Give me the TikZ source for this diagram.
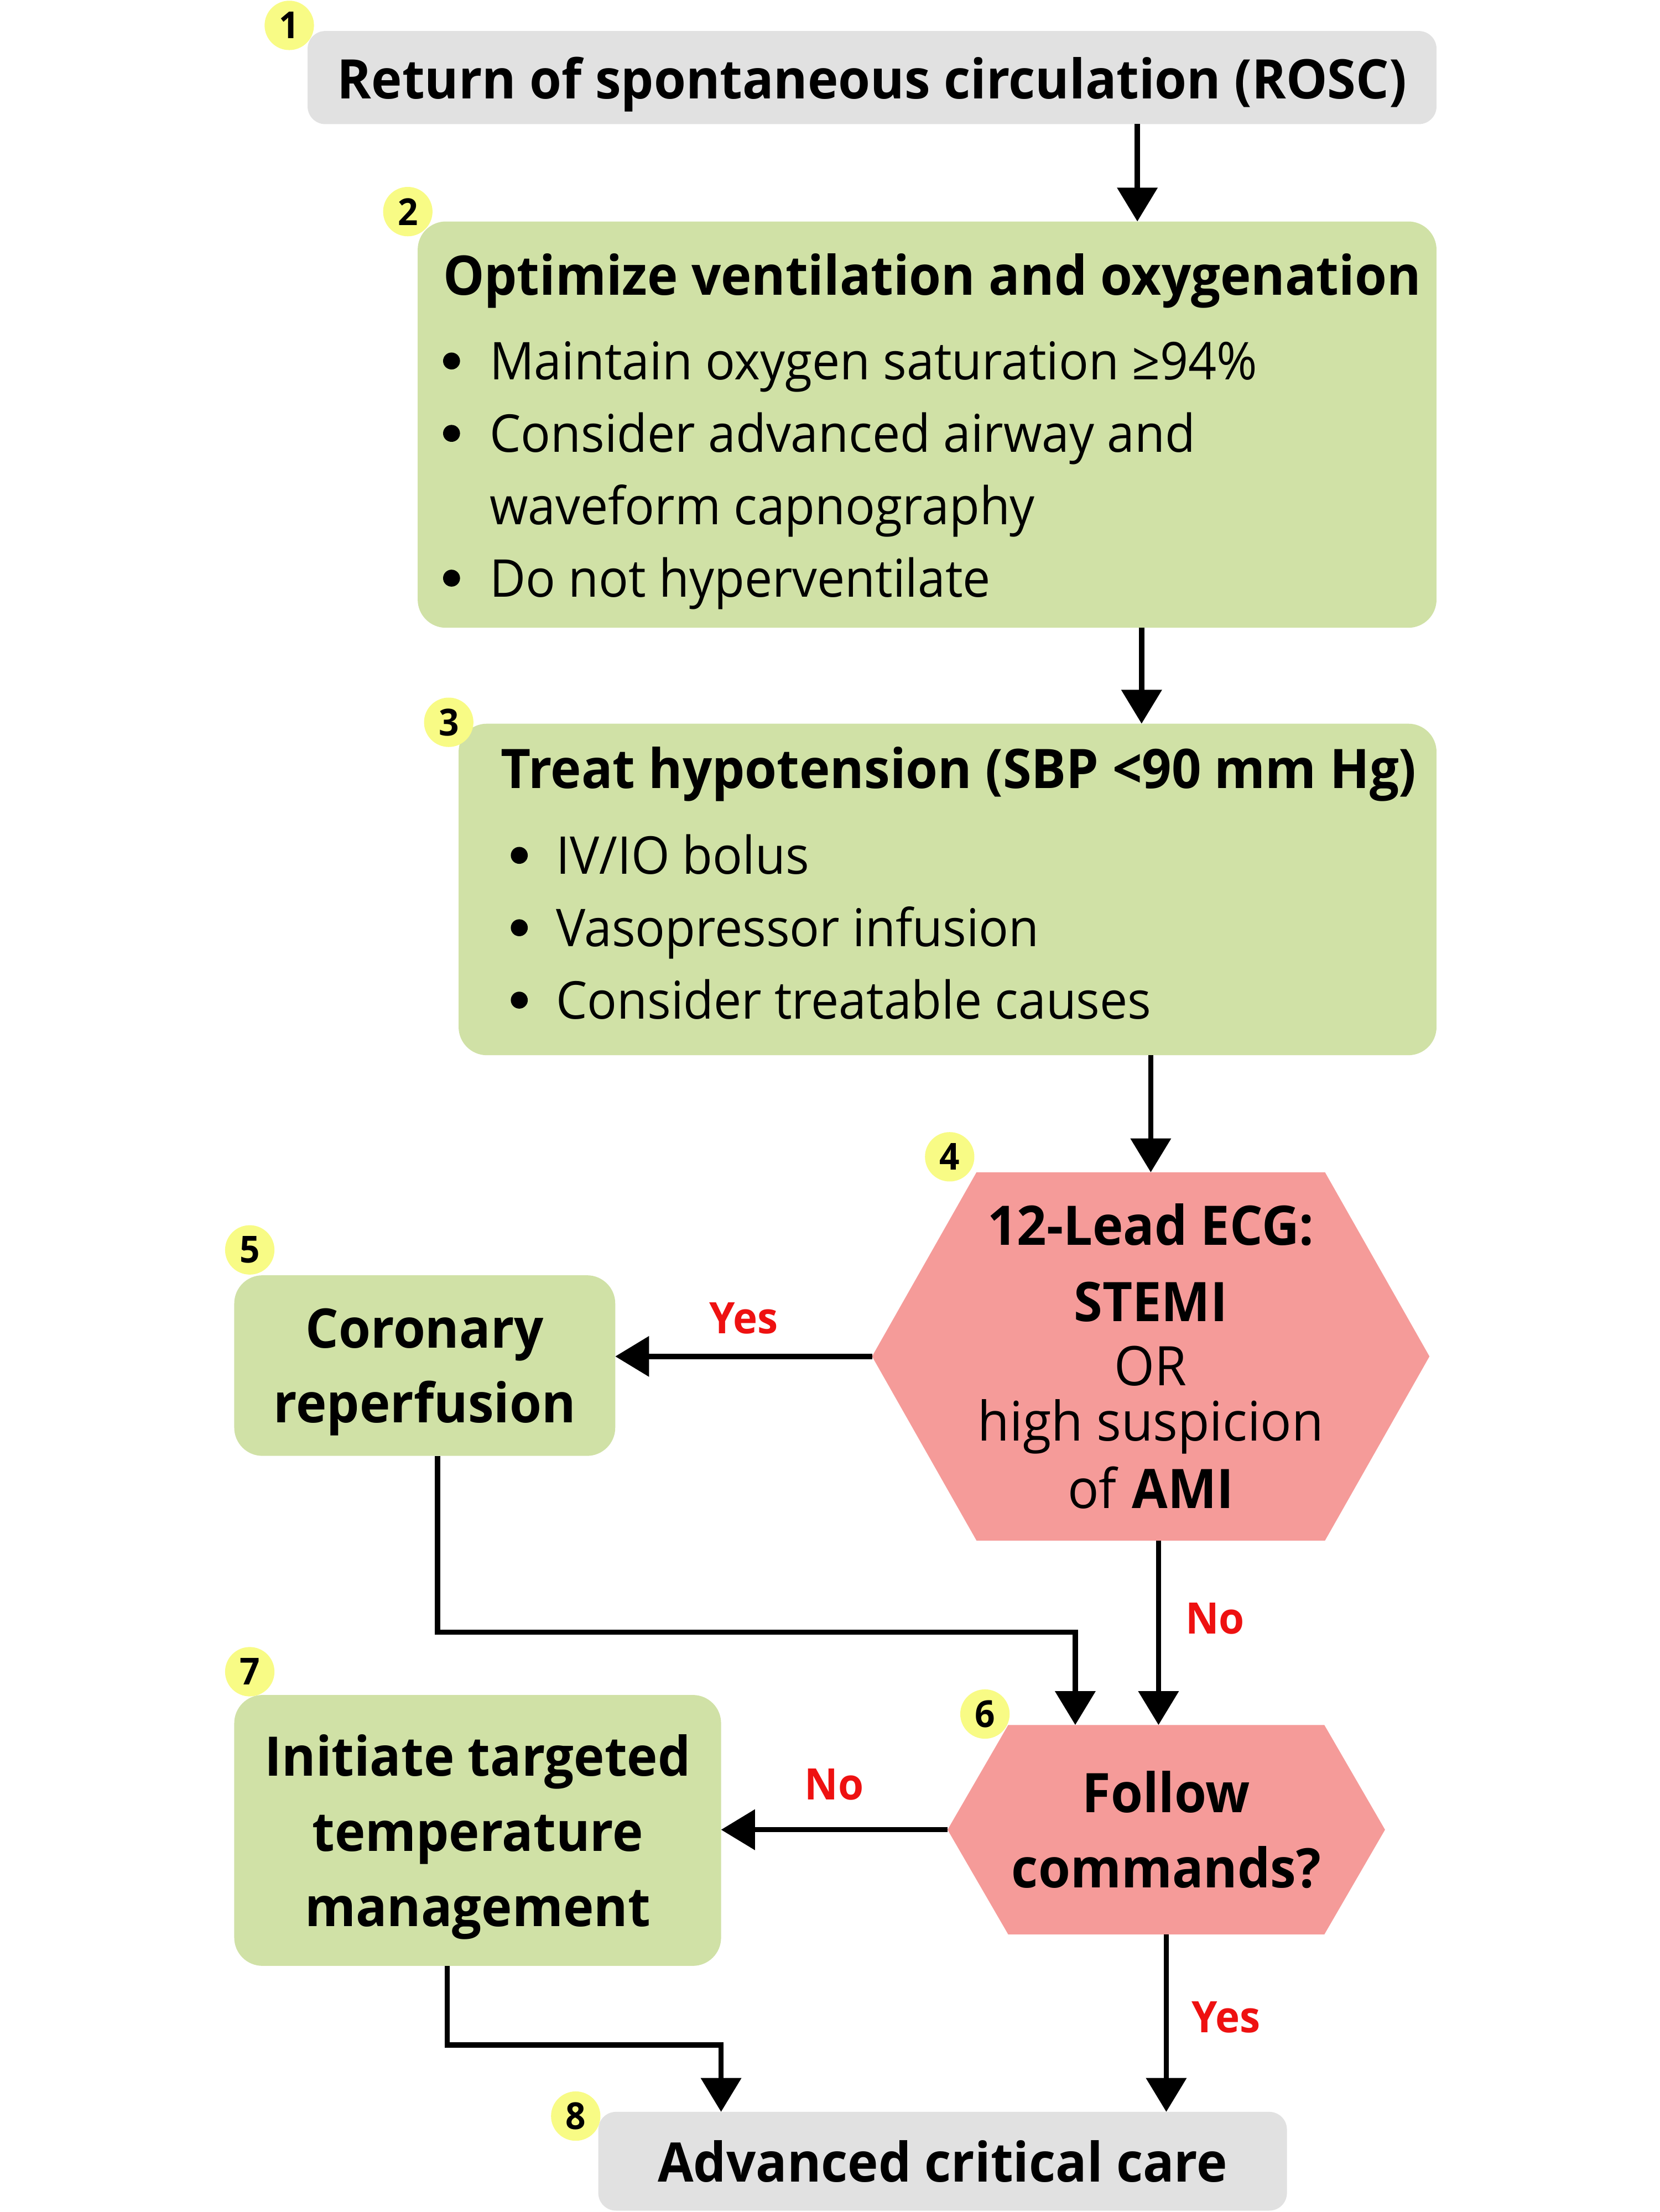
\documentclass[tikz,border=0pt]{standalone}
\usepackage{fontspec}
\setmainfont{Open Sans}[FakeStretch=0.95]
\usetikzlibrary{arrows.meta,positioning,calc}
\definecolor{boxgray}{HTML}{E1E1E1}
\definecolor{boxgreen}{HTML}{D0E1A6}
\definecolor{hexpink}{HTML}{F59B99}
\definecolor{badgeyellow}{HTML}{F8FB85}
\definecolor{labelred}{HTML}{EE1111}
\newcommand{\listdot}[1]{\makebox[#1][l]{\tikz[baseline=0pt]\fill (1.2mm,7.6pt) circle[radius=1.2mm];}}
\newcommand{\headfont}{\bfseries\fontsize{22}{29.2}\selectfont}
\begin{document}
\begin{tikzpicture}[x=0.2mm,y=-0.2mm,>={Triangle[length=4.8mm,width=5.6mm]},line width=0.75mm]
    \tikzstyle{every node}=[outer sep=0pt]
    \tikzstyle{grayBox}=[rectangle, fill=boxgray, rounded corners=2.5mm, align=center, text depth=0pt, font=\bfseries\fontsize{22}{30}\selectfont]
    \tikzstyle{greenBox}=[rectangle, fill=boxgreen, rounded corners=4mm, align=center, text depth=0pt, font=\bfseries\fontsize{22}{30}\selectfont]
    \tikzstyle{listText}=[anchor=west, inner sep=0pt, align=left, font=\fontsize{21}{29.2}\selectfont]
    \tikzstyle{badge}=[circle, fill=badgeyellow, minimum size=7mm, inner sep=0pt, font=\bfseries\fontsize{15}{15}\selectfont]
    \tikzstyle{answer}=[text=labelred, inner sep=0pt, font=\bfseries\fontsize{17.5}{17.5}\selectfont]
    \tikzset{hexBox/.style={rectangle, fill=white, inner sep=0pt, align=center,
      path picture={\fill[hexpink] (path picture bounding box.west)
        -- ([xshift=#1]path picture bounding box.north west)
        -- ([xshift=-#1]path picture bounding box.north east)
        -- (path picture bounding box.east)
        -- ([xshift=-#1]path picture bounding box.south east)
        -- ([xshift=#1]path picture bounding box.south west) -- cycle;}}}
    \useasboundingbox (0,0) rectangle (1176,1568);

    % boxes
    \node[grayBox, minimum width=160mm, minimum height=13.2mm] (rosc) at (618,55) {Return of spontaneous circulation (ROSC)};
    \node[greenBox, minimum width=144.4mm, minimum height=57.6mm] (vent) at (657,301) {};
    \node[listText] (ventList) at ([xshift=3.6mm,yshift=-1mm]vent.west) {{\headfont Optimize ventilation and oxygenation}\\[4.9pt]
      \listdot{6.6mm}Maintain oxygen saturation ≥94\%\\
      \listdot{6.6mm}Consider advanced airway and\\
      \hspace*{6.6mm}waveform capnography\\
      \listdot{6.6mm}Do not hyperventilate};
    \node[greenBox, minimum width=138.6mm, minimum height=47mm] (hypo) at (671.5,630.5) {};
    \node[listText] (hypoList) at ([xshift=6mm,yshift=0.9mm]hypo.west) {{\headfont Treat hypotension (SBP <90 mm Hg)}\\[5.5pt]
      \hspace*{1.4mm}\listdot{6.4mm}IV/IO bolus\\
      \hspace*{1.4mm}\listdot{6.4mm}Vasopressor infusion\\
      \hspace*{1.4mm}\listdot{6.4mm}Consider treatable causes};
    \node[hexBox=14.8mm, minimum width=79mm, minimum height=52.2mm, font=\fontsize{22}{26}\selectfont] (ecg) at (815.5,961.5)
      {\textbf{12-Lead ECG:}\\[4.6pt] \textbf{STEMI}\\ OR\\[-3.8pt] high suspicion\\[1.3pt] of \textbf{AMI}};
    \node[greenBox, minimum width=54mm, minimum height=25.6mm] (reperf) at (301,968) {Coronary\\reperfusion};
    \node[hexBox=8.6mm, minimum width=62mm, minimum height=29.7mm, font=\bfseries\fontsize{22}{30.5}\selectfont] (follow) at (826.5,1297) {Follow\\commands?};
    \node[greenBox, minimum width=69mm, minimum height=38.4mm, font=\bfseries\fontsize{22}{30.4}\selectfont] (ttm) at (338.5,1297.5) {Initiate targeted\\temperature\\management};
    \node[grayBox, minimum width=97.6mm, minimum height=14mm] (care) at (668,1532) {Advanced critical care};

    % step numbers
    \node[badge] (badgeA) at (205,18) {1};
    \node[badge] (badgeB) at (289,150) {2};
    \node[badge] (badgeC) at (318,512) {3};
    \node[badge] (badgeD) at (673,820) {4};
    \node[badge] (badgeE) at (177,886) {5};
    \node[badge] (badgeF) at (698,1215) {6};
    \node[badge] (badgeG) at (177,1185) {7};
    \node[badge] (badgeH) at (408,1500) {8};

    % arrows
    \draw[->] ([xshift=29.8mm]vent.north |- rosc.south) -- ([xshift=29.8mm]vent.north);
    \draw[->] ([xshift=27.5mm]hypo.north |- vent.south) -- ([xshift=27.5mm]hypo.north);
    \draw[->] (ecg.north |- hypo.south) -- (ecg.north);
    \draw[->] (ecg.west) -- (ecg.west -| reperf.east) node[answer, midway, yshift=5.4mm] {Yes};
    \draw[->] ([xshift=1.1mm]ecg.south) -- ([xshift=1.1mm]ecg.south |- follow.north) node[answer, midway, xshift=8mm, yshift=2mm] {No};
    \draw[->] ([xshift=1.8mm]reperf.south) -- ++(0,125) -| ([xshift=-12.9mm]follow.north);
    \draw[->] (follow.west) -- (follow.west -| ttm.east) node[answer, midway, yshift=6.4mm] {No};
    \draw[->] (follow.south) -- (follow.south |- care.north) node[answer, midway, xshift=8.5mm, yshift=0.8mm] {Yes};
    \draw[->] ([xshift=-4.3mm]ttm.south) -- ++(0,56) -| ([xshift=-31.4mm]care.north);
  \end{tikzpicture}
\end{document}
